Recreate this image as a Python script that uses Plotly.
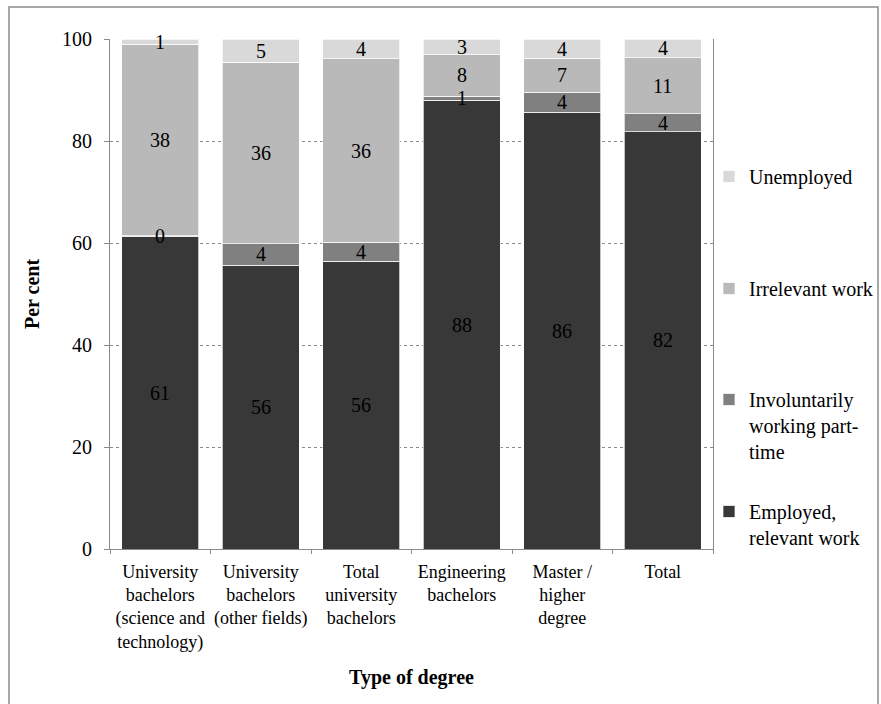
import numpy as np
import plotly.graph_objects as go

# Categories (type of degree) and shares (%) per employment status
categories = [
    "University<br>bachelors<br>(science and<br>technology)",
    "University<br>bachelors<br>(other fields)",
    "Total<br>university<br>bachelors",
    "Engineering<br>bachelors",
    "Master /<br>higher<br>degree",
    "Total",
]
employed_relevant = [61.3, 55.6, 56.4, 88.0, 85.6, 81.8]
involuntary_part_time = [0.1, 4.3, 3.7, 0.8, 4.0, 3.5]
irrelevant_work = [37.6, 35.5, 36.0, 8.1, 6.6, 11.0]
unemployed = [1.0, 4.6, 3.9, 3.1, 3.8, 3.7]

series_names = [
    "Employed,<br>relevant work",
    "Involuntarily<br>working part-<br>time",
    "Irrelevant work",
    "Unemployed",
]
series_values = [employed_relevant, involuntary_part_time, irrelevant_work, unemployed]
series_colors = ["#383838", "#808080", "#b9b9b9", "#d9d9d9"]

FONT = "Liberation Serif"
W, H = 881, 704
L, R, T, B = 110, 168, 39, 155
PW, PH = W - L - R, H - T - B

fig = go.Figure()
legend_ids = ["legend4", "legend3", "legend2", "legend"]
for name, vals, col, lid in zip(series_names, series_values, series_colors, legend_ids):
    fig.add_trace(go.Bar(
        x=categories, y=vals, name=name, legend=lid, showlegend=True,
        marker=dict(color=col, line=dict(color="rgba(255,255,255,0.7)", width=1)),
        hoverinfo="skip",
    ))

# Value labels centred in each stacked segment
stack = np.array(series_values)
tops = np.cumsum(stack, axis=0)
mids = tops - stack / 2
annotations = []
for i in range(stack.shape[0]):
    for j, cat in enumerate(categories):
        annotations.append(dict(
            x=cat, y=mids[i, j], xref="x", yref="y",
            text=f"{stack[i, j]:.0f}", showarrow=False,
            font=dict(family=FONT, size=20, color="#000000"),
        ))

# One legend per series, spaced down the right-hand side
legend_tops = [161, 273, 384, 496]  # pixel rows of each entry's first line
legend_layout = {}
for lid, top in zip(["legend", "legend2", "legend3", "legend4"], legend_tops):
    legend_layout[lid] = dict(
        x=(709 - L) / PW, xanchor="left",
        y=1 - (top - T - 4) / PH, yanchor="top",
        font=dict(family=FONT, size=20, color="#000000"),
        bgcolor="rgba(0,0,0,0)", valign="top", itemwidth=30,
        itemclick=False, itemdoubleclick=False,
    )

fig.update_layout(
    width=W, height=H,
    margin=dict(l=L, r=R, t=T, b=B, autoexpand=False),
    paper_bgcolor="white", plot_bgcolor="white",
    barmode="stack", bargap=0.234,
    showlegend=True,
    font=dict(family=FONT, size=20, color="#000000"),
    annotations=annotations,
    shapes=[dict(
        type="rect", xref="paper", yref="paper",
        x0=(9 - L) / PW, x1=(878 - L) / PW,
        y0=-(720 - (H - B)) / PH, y1=1 + (T - 7) / PH,
        line=dict(color="#8c8c8c", width=1.5), fillcolor="rgba(0,0,0,0)",
        layer="below",
    )],
    **legend_layout,
)

fig.update_yaxes(
    range=[0, 100], tickvals=[0, 20, 40, 60, 80, 100],
    showgrid=True, gridcolor="#8a8a8a", griddash="dot", gridwidth=1,
    showline=True, linecolor="#8a8a8a", linewidth=1, mirror=True,
    ticks="outside", ticklen=5, tickcolor="#8a8a8a",
    tickfont=dict(family=FONT, size=20, color="#000000"),
    ticklabelstandoff=8,
    zeroline=False,
    title=dict(text="Per cent", standoff=17,
               font=dict(family=FONT, size=20, color="#000000", weight="bold")),
)
fig.update_xaxes(
    showline=True, linecolor="#8a8a8a", linewidth=1,
    ticks="outside", tickson="boundaries", ticklen=4, tickcolor="#8a8a8a",
    tickangle=0,
    tickfont=dict(family=FONT, size=18, color="#000000"),
    ticklabelstandoff=6,
    title=dict(text="Type of degree", standoff=18,
               font=dict(family=FONT, size=20, color="#000000", weight="bold")),
)

fig.write_html("out.html")
